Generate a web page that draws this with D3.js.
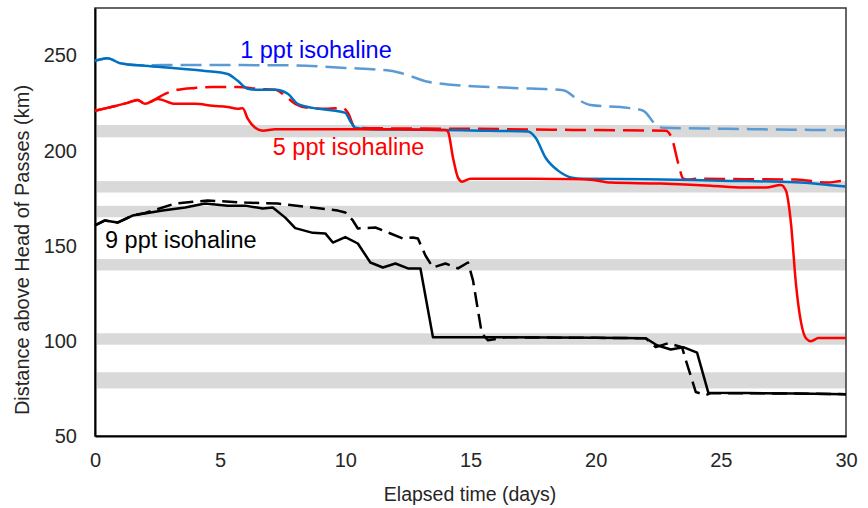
<!DOCTYPE html>
<html>
<head>
<meta charset="utf-8">
<script src="https://cdn.jsdelivr.net/npm/d3@7"></script>
<style>
  html, body { margin: 0; padding: 0; background: #fff; }
  svg { display: block; font-family: "Liberation Sans", Arial, sans-serif; }
</style>
</head>
<body>
<svg id="chart" width="868" height="508"></svg>
<script>
// Isohaline positions over time: [elapsed days, distance above Head of Passes (km)]
const ppt1Solid = [[0,247.2],[0.5,248.6],[1.0,246],[2.0,244.6],[3.2,243.3],[4.4,241.9],[5.3,240.3],[5.7,236.7],[6.1,232.5],[6.5,232],[7.2,232],[7.7,229.9],[8.1,224.6],[8.7,222.5],[9.6,221],[10.0,219.9],[10.2,215.5],[10.4,212],[11,211.3],[13,211],[15,210.6],[17.3,210.1],[17.6,206.8],[18.0,196.3],[18.5,189.5],[19.06,185.8],[19.5,185.3],[22,185],[25,184.2],[28,183.4],[29.3,182],[30,181.2]];
const ppt1Dashed = [[0,247.2],[0.5,248.6],[1.0,246],[2.0,244.8],[2.7,245],[5.3,245],[8,244.8],[10,243.5],[11.8,242],[12.3,240.5],[13.3,236.2],[14.1,234.8],[16.7,233],[18.7,231.8],[19.3,226.8],[19.8,224],[21.3,222.5],[21.9,221],[22.45,213.1],[22.7,212],[25.2,211.5],[27.9,211],[30,210.8]];
const ppt5Solid = [[0,221],[0.5,222.5],[1.3,225.1],[1.7,226.7],[2.0,224.6],[2.5,227.2],[3.2,224.6],[4.0,224.6],[4.7,223.6],[5.3,223],[5.7,222],[5.9,222.3],[6.1,216.8],[6.4,212],[6.7,210.5],[7.2,211.3],[10,211.3],[12,211.2],[14.0,210.8],[14.1,210],[14.3,196.3],[14.5,185.8],[14.66,183.7],[15.0,185.3],[17,185.2],[19.3,185],[19.9,184.6],[20.6,183.2],[22.6,182.7],[24.6,181.6],[25.9,180.6],[26.8,180.6],[27.4,182],[27.6,179],[27.8,162],[28.0,130],[28.2,110],[28.4,101.4],[28.6,99.8],[28.9,101.5],[30,101.5]];
const ppt5Dashed = [[0,221],[0.5,222.5],[1.3,225.1],[1.7,226.7],[2.0,224.6],[2.3,226.2],[2.8,229.9],[3.3,232],[4.0,233],[4.7,233.5],[5.7,233.5],[6.5,232.5],[7.2,232],[7.6,228.8],[8.0,224.6],[8.5,222.5],[9.3,222],[9.9,222.5],[10.1,219.9],[10.4,212],[11,211.8],[15,211.5],[20,210.8],[22.8,210.5],[23.05,206.3],[23.3,193.2],[23.5,185.3],[23.7,184.8],[24.0,185.3],[26,185],[28.0,184.8],[29.3,183.2],[29.8,184],[30,183.5]];
const ppt9Solid = [[0,160.7],[0.4,163.3],[0.9,162.2],[1.5,165.9],[2.7,168.5],[3.6,170.1],[4.4,172.2],[5.3,171.1],[6.0,171.1],[6.7,169.6],[7.1,170.1],[7.6,164.8],[8.0,159.3],[8.7,156.8],[9.2,156.5],[9.5,151.7],[10.0,154.6],[10.5,151.2],[11.0,141.2],[11.5,138.6],[12.0,140.7],[12.5,138.1],[13.0,138.1],[13.5,101.9],[16,101.9],[20,101.6],[22,101.4],[22.45,97.7],[23.0,95.5],[23.5,96.7],[24.05,93.8],[24.5,72.8],[26,72.6],[28,72.3],[30,72]];
const ppt9Dashed = [[0,160.7],[0.4,163.3],[0.9,162.2],[1.5,165.9],[2.0,167.2],[3.2,172.2],[4.5,173.8],[6.0,172.7],[7.3,172.2],[8.7,170.1],[9.7,168.5],[10.0,167.5],[10.3,163.3],[10.5,159.1],[11.2,159.6],[11.7,157],[12.3,153.8],[12.7,154.4],[12.9,153.8],[13.2,144.9],[13.5,138.6],[14.0,140.7],[14.5,138.1],[14.9,141.2],[15.1,131.8],[15.45,104],[15.7,100.3],[16.4,101.9],[20,101.6],[22,101.4],[22.4,96.7],[22.9,98.8],[23.45,96.7],[23.6,89.9],[24.0,73.1],[24.4,71.5],[24.6,72.5],[27,72.4],[30,72]];

// Shaded distance ranges (km)
const bands = [[207,213.5],[178,184],[165,171],[137,143],[98,104],[75,83.5]];

// Axis ticks
const xTicks = [0,5,10,15,20,25,30];
const yTicks = [50,100,150,200,250];

// Isohaline annotations: [text, day, km]
const labels = [["1 ppt isohaline", 5.8, 248.7], ["5 ppt isohaline", 7.1, 197.8], ["9 ppt isohaline", 0.4, 148.6]];

const svg = d3.select("#chart");
const x = d3.scaleLinear().domain([0, 30]).range([95, 846]);
const y = d3.scaleLinear().domain([50, 275]).range([436, 8]);

// Bands
svg.append("g").selectAll("rect").data(bands).join("rect")
  .attr("x", x(0) + 2).attr("width", x(30) - x(0) - 2)
  .attr("y", d => y(d[1])).attr("height", d => y(d[0]) - y(d[1]))
  .attr("fill", "#d9d9d9");

// Plot frame
svg.append("rect")
  .attr("x", x(0)).attr("y", y(275))
  .attr("width", x(30) - x(0)).attr("height", y(50) - y(275))
  .attr("fill", "none").attr("stroke", "#404040").attr("stroke-width", 1.6);

// Axes (labels only)
const xAxis = svg.append("g").attr("transform", `translate(0,${y(50)})`)
  .call(d3.axisBottom(x).tickValues(xTicks).tickSize(0).tickPadding(17));
const yAxis = svg.append("g").attr("transform", `translate(${x(0)},0)`)
  .call(d3.axisLeft(y).tickValues(yTicks).tickSize(0).tickPadding(18));
[xAxis, yAxis].forEach(a => {
  a.select(".domain").attr("stroke", "#000").attr("stroke-width", 2);
  a.selectAll("text").attr("font-size", 20).attr("fill", "#262626")
    .attr("font-family", "'Liberation Sans', Arial, sans-serif");
});

// Series
const smooth = d3.line().x(d => x(d[0])).y(d => y(d[1])).curve(d3.curveMonotoneX);
const straight = d3.line().x(d => x(d[0])).y(d => y(d[1]));
const series = [
  { data: ppt9Dashed, color: "#000000", dash: "15,7", gen: straight },
  { data: ppt9Solid,  color: "#000000", dash: null,   gen: straight },
  { data: ppt1Dashed, color: "#5b9bd5", dash: "21,8", gen: smooth },
  { data: ppt5Dashed, color: "#ff0000", dash: "21,8", gen: smooth },
  { data: ppt1Solid,  color: "#0070c0", dash: null,   gen: smooth },
  { data: ppt5Solid,  color: "#ff0000", dash: null,   gen: smooth }
];
svg.append("g").selectAll("path").data(series).join("path")
  .attr("d", s => s.gen(s.data))
  .attr("fill", "none")
  .attr("stroke", s => s.color)
  .attr("stroke-width", 2.5)
  .attr("stroke-linejoin", "round")
  .attr("stroke-dasharray", s => s.dash);

// Annotations
const labelColors = ["#0000ff", "#ff0000", "#000000"];
svg.append("g").selectAll("text").data(labels).join("text")
  .attr("x", d => x(d[1])).attr("y", d => y(d[2]))
  .attr("font-size", 23.5)
  .attr("fill", (d, i) => labelColors[i])
  .text(d => d[0]);

// Axis titles
svg.append("text")
  .attr("x", 470).attr("y", 501)
  .attr("text-anchor", "middle").attr("font-size", 19.5).attr("fill", "#262626")
  .text("Elapsed time (days)");
svg.append("text")
  .attr("transform", "translate(29,250) rotate(-90)")
  .attr("text-anchor", "middle").attr("font-size", 20).attr("fill", "#262626")
  .text("Distance above Head of Passes (km)");
</script>
</body>
</html>
